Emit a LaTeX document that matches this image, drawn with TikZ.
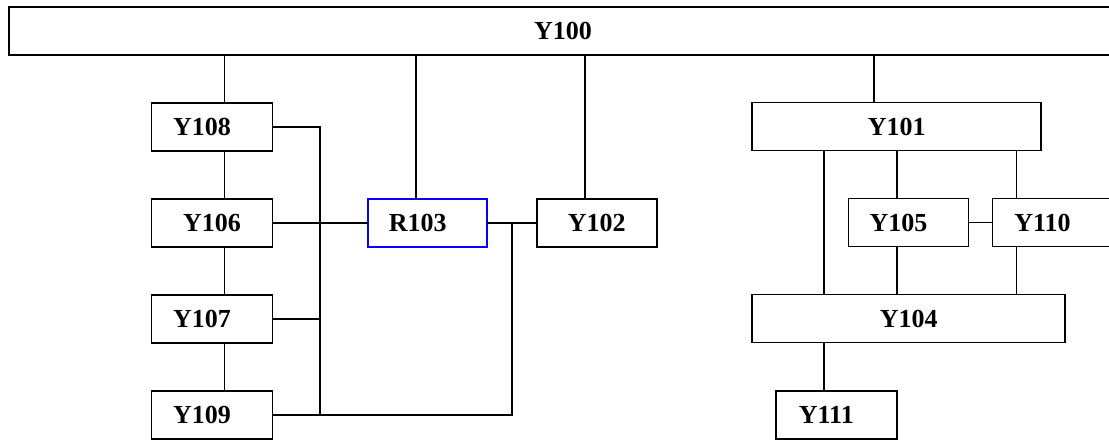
\documentclass[tikz,border=0pt]{standalone}
\usepackage{fontspec}
\setmainfont{Liberation Serif}
\usetikzlibrary{positioning,calc}

\begin{document}
\begin{tikzpicture}[x=1pt, y=-1pt,
  every node/.style={font=\fontsize{26}{30}\selectfont\bfseries},
  unit/.style={draw, line width=1.9pt, minimum width=121pt, minimum height=48pt,
               inner sep=0pt, outer sep=0pt},
  hub/.style={unit, draw=blue, line width=2.3pt},
  offtext/.style={execute at begin node={\kern-20pt}},
  link/.style={line width=1.9pt},
]
\clip (0,0) rectangle (1109,442);

% Top bar
\node[unit, minimum width=1108pt, text depth=-3pt] (Y100) at (563,31) {Y100};

% Left column
\node[unit, offtext] (Y108) at (212,126.7) {Y108};
\node[unit, below=48pt of Y108] (Y106) {Y106};
\node[unit, offtext, below=48pt of Y106] (Y107) {Y107};
\node[unit, offtext, below=48pt of Y107] (Y109) {Y109};

% Middle
\node[hub, offtext, minimum width=119pt] (R103) at (427.7,222.7) {R103};
\node[unit, minimum width=120pt] (Y102) at (596.7,222.7) {Y102};

% Right group
\node[unit, minimum width=289pt] (Y101) at (896.7,126.5) {Y101};
\node[unit, offtext, minimum width=120pt] (Y105) at (908.5,222.5) {Y105};
\node[unit, offtext, minimum width=120pt, right=24pt of Y105] (Y110) {Y110};
\node[unit, minimum width=313pt] (Y104) at (908.7,318.5) {Y104};
\node[unit, offtext] (Y111) at (836.3,414.7) {Y111};

% Bus lines
\coordinate (lbus) at (320.3,0);
\coordinate (rbus) at (512.3,0);

% Drops from the top bar
\draw[link] ([xshift=12.5pt]Y108.north) -- ([xshift=12.5pt]Y108.north |- Y100.south);
\draw[link] ([xshift=-11.4pt]R103.north) -- ([xshift=-11.4pt]R103.north |- Y100.south);
\draw[link] ([xshift=-11.7pt]Y102.north) -- ([xshift=-11.7pt]Y102.north |- Y100.south);
\draw[link] ([xshift=-22.7pt]Y101.north) -- ([xshift=-22.7pt]Y101.north |- Y100.south);

% Left chain
\foreach \a/\b in {Y108/Y106, Y106/Y107, Y107/Y109}
  \draw[link] ([xshift=12.5pt]\a.south) -- ([xshift=12.5pt]\b.north);
\draw[link] (Y108.east) -| (Y109.east -| lbus);
\draw[link] (Y106.east) -- (R103.west);
\draw[link] (Y107.east) -- (Y107.east -| lbus);
\draw[link] (Y109.east) -| (R103.east -| rbus);
\draw[link] (R103.east) -- (Y102.west);

% Right group
\draw[link] ([xshift=72pt]Y104.north west) -- ([xshift=72pt]Y104.north west |- Y101.south);
\draw[link] ([xshift=-11.8pt]Y105.north) -- ([xshift=-11.8pt]Y105.north |- Y101.south);
\draw[link] ([xshift=-11.8pt]Y105.south) -- ([xshift=-11.8pt]Y105.south |- Y104.north);
\draw[link] ([xshift=-36pt]Y110.north) -- ([xshift=-36pt]Y110.north |- Y101.south);
\draw[link] ([xshift=-36pt]Y110.south) -- ([xshift=-36pt]Y110.south |- Y104.north);
\draw[link] (Y105.east) -- (Y110.west);
\draw[link] ([xshift=-12pt]Y111.north) -- ([xshift=-12pt]Y111.north |- Y104.south);
\end{tikzpicture}
\end{document}
